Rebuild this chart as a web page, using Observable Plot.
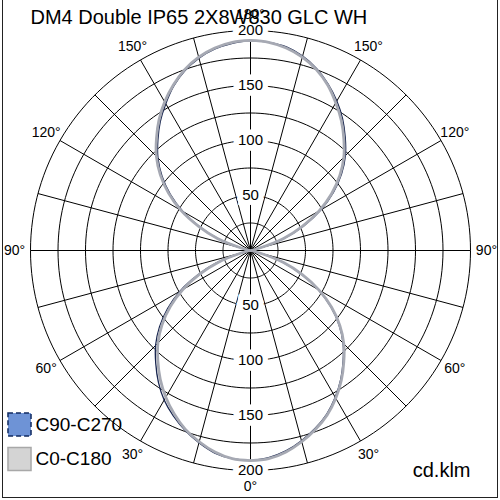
<!DOCTYPE html>
<html><head><meta charset="utf-8">
<script src="https://cdn.jsdelivr.net/npm/d3@7"></script>
<script src="https://cdn.jsdelivr.net/npm/@observablehq/plot@0.6"></script>
<style>body{margin:0;background:#fff;} svg{display:block}</style>
</head><body><div id="chart"></div>
<script>
const title = "DM4 Double IP65 2X8W830 GLC WH";
const unit = "cd.klm";
const seriesNames = ["C90-C270", "C0-C180"];
const gammas = [0,5,10,15,20,25,30,35,40,45,50,55,60,65,70,75,80,85,90,95,100,105,110,115,120,125,130,135,140,145,150,155,160,165,170,175,180];
// C0-C180 (grey): right half C0, left half C180
const c0   = [191,190,186,180,173,165,155,144,132,120,106,90,72,52,32,8,0,0,0, 0,0,8,32,52,72,90,106,120,132,144,155,166,175,182,187,190,191];
const c180 = [191,190,186,180,173,164,154,143,131,119,105,89,71,51,31,8,0,0,0, 0,0,8,32,52,73,91,107,121,133,145,156,166,175,182,187,190,191];
// C90-C270 (dark blue): right half C90, left half C270
const c90  = [191,189,185,179,172,164,154,143,131,119,105,89,71,51,31,7,0,0,0, 0,0,8,33,54,74,92,108,122,134,146,157,167,176,183,188,190,191];
const c270 = [191,190,187,181,174,166,157,146,134,122,108,92,74,53,33,8,0,0,0, 0,0,7,31,51,71,89,105,119,131,143,154,165,174,181,186,189,191];
const ringValues = [25,50,75,100,125,150,175,200];
const ringLabels = [50,100,150,200];
const spokeAngles = [0,15,30,45,60,75,90,105,120,135,150,165,180,195,210,225,240,255,270,285,300,315,330,345];
const angleLabels = [0,30,60,90,120,150,180];

const rad = Math.PI / 180;
function loop(name, right, left) {
  const r = gammas.map((g, i) => ({series: name, side: 1, gamma: g, value: right[i]}));
  const l = gammas.map((g, i) => ({series: name, side: -1, gamma: g, value: left[i]})).reverse();
  return r.concat(l);
}
const px = d => d.side * d.value * Math.sin(d.gamma * rad);
const py = d => -d.value * Math.cos(d.gamma * rad);

const darkLoop = loop(seriesNames[0], c90, c270);
const greyLoop = loop(seriesNames[1], c0, c180);

const ringPts = ringValues.flatMap(v => d3.range(0, 361, 2).map(a => ({ring: v, a})));
const labelRows = [];
for (const a of angleLabels) {
  labelRows.push({a, side: 1});
  if (a !== 0 && a !== 180) labelRows.push({a, side: -1});
}
const ringLabelRows = ringLabels.flatMap(v => [{v, s: 1}, {v, s: -1}]);
const LR = 214.5;
const font = "Liberation Sans, Arial, sans-serif";

const chart = Plot.plot({
  width: 500, height: 500, margin: 0,
  x: {domain: [-227.2727, 227.2727], axis: null},
  y: {domain: [-227.2727, 227.2727], axis: null},
  style: {background: "white", fontFamily: font, overflow: "visible"},
  marks: [
    Plot.frame({stroke: "#222", insetLeft: 2, insetRight: 3, insetBottom: 3, insetTop: -3}),
    Plot.line(ringPts, {x: d => d.ring * Math.sin(d.a * rad), y: d => d.ring * Math.cos(d.a * rad), z: "ring", stroke: "black", strokeWidth: 1}),
    Plot.link(spokeAngles, {x1: 0, y1: 0, x2: a => 200 * Math.sin(a * rad), y2: a => 200 * Math.cos(a * rad), stroke: "black", strokeWidth: 1}),
    // white boxes behind radial labels
    Plot.text(ringLabelRows, {x: 0, y: d => d.s * d.v, text: d => String(d.v), fontSize: 15, fill: "white", stroke: "white", strokeWidth: 11, strokeLinejoin: "miter"}),
    Plot.line(darkLoop, {x: px, y: py, stroke: "#18254f", strokeWidth: 1.3, curve: "catmull-rom"}),
    Plot.line(greyLoop, {x: px, y: py, stroke: "#a6a9b3", strokeWidth: 2.8, curve: "catmull-rom"}),
    Plot.text(ringLabelRows, {x: 0, y: d => d.s * d.v, text: d => String(d.v), fontSize: 15, fill: "black"}),
    Plot.text(labelRows, {x: d => d.side * LR * Math.sin(d.a * rad), y: d => -LR * Math.cos(d.a * rad), text: d => d.a + "°", fontSize: 14, fill: "black"}),
    Plot.text([title], {frameAnchor: "top-left", dx: 30, dy: 9, fontSize: 20, textAnchor: "start", fill: "black"}),
    Plot.dot([seriesNames[0]], {frameAnchor: "bottom-left", dx: 19, dy: -76, symbol: "square", r: 13, fill: "#6e93d6", stroke: "#102a60", strokeWidth: 1.5, strokeDasharray: "5,3"}),
    Plot.dot([seriesNames[1]], {frameAnchor: "bottom-left", dx: 19, dy: -41.5, symbol: "square", r: 13, fill: "#d4d4d4", stroke: "#a8a8a8", strokeWidth: 1.5}),
    Plot.text([seriesNames[0]], {frameAnchor: "bottom-left", dx: 35, dy: -76, fontSize: 19, textAnchor: "start", lineAnchor: "middle", fill: "black"}),
    Plot.text([seriesNames[1]], {frameAnchor: "bottom-left", dx: 35, dy: -41.5, fontSize: 19, textAnchor: "start", lineAnchor: "middle", fill: "black"}),
    Plot.text([unit], {frameAnchor: "bottom-right", dx: -30, dy: -29.5, fontSize: 20, textAnchor: "end", lineAnchor: "middle", fill: "black"})
  ]
});
document.getElementById("chart").appendChild(chart);
</script>
</body></html>
